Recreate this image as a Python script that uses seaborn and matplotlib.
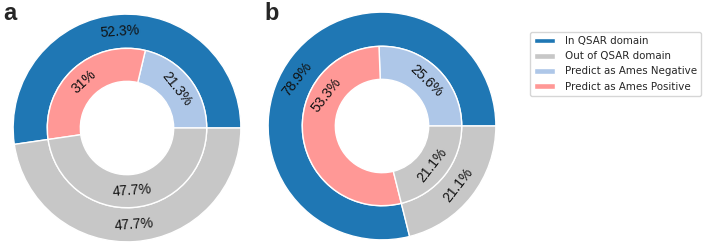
"""
QSAR applicability domain / Ames prediction nested donuts.
"""

import numpy as np
import matplotlib.pyplot as plt
import seaborn as sns
from matplotlib.patches import Patch

sns.set_theme(style="white")

# ── Data ──────────────────────────────────────────────────────────────────────
legend_labels = ["In QSAR domain", "Out of QSAR domain",
                 "Predict as Ames Negative", "Predict as Ames Positive"]

outer_a = [52.3, 47.7]          # in domain, out of domain
inner_a = [21.3, 31.0, 47.7]    # negative, positive, out of domain
outer_b = [78.9, 21.1]
inner_b = [25.6, 53.3, 21.1]

outer_text_a = ["52.3%", "47.7%"]
inner_text_a = ["21.3%", "31%", "47.7%"]
outer_text_b = ["78.9%", "21.1%"]
inner_text_b = ["25.6%", "53.3%", "21.1%"]

# panel b: the 78.9% / 53.3% labels sit a bit further round than the bisector
b_left_label_angle = 151

tab20 = sns.color_palette("tab20")
c_in, c_out, c_neg, c_pos = tab20[0], tab20[15], tab20[1], tab20[7]
LABEL_FONT = ["Liberation Sans", "DejaVu Sans"]


def put_labels(ax, angles, rots, texts, r):
    for theta, rot, t in zip(angles, rots, texts):
        x, y = r * np.cos(np.radians(theta)), r * np.sin(np.radians(theta))
        rot = (rot - 90) % 360
        if 90 < rot < 270:
            rot -= 180
        ax.text(x, y, t, rotation=rot, rotation_mode="anchor",
                ha="center", va="center", fontsize=10, color="#111111",
                family=LABEL_FONT)


def mid(w):
    return (w.theta1 + w.theta2) / 2


def donut(ax, outer, inner, outer_text, inner_text, left_angle=None):
    wo, _ = ax.pie(outer, radius=1.0, colors=[c_in, c_out], startangle=0,
                   counterclock=True,
                   wedgeprops=dict(width=0.30, edgecolor="white", linewidth=1))
    wi, _ = ax.pie(inner, radius=0.70, colors=[c_neg, c_pos, c_out], startangle=0,
                   counterclock=True,
                   wedgeprops=dict(width=0.29, edgecolor="white", linewidth=1))
    o_rot = [mid(w) for w in wo]
    i_rot = [mid(w) for w in wi]
    o_pos, i_pos = list(o_rot), list(i_rot)
    if left_angle is not None:
        o_pos[0] = left_angle
        i_pos[1] = left_angle
        i_rot[1] = o_rot[0]
    put_labels(ax, o_pos, o_rot, outer_text, 0.85)
    put_labels(ax, i_pos, i_rot, inner_text, 0.555)
    ax.set_xlim(-1.01, 1.01)
    ax.set_ylim(-1.01, 1.01)
    ax.set_aspect("equal")
    ax.axis("off")


fig = plt.figure(figsize=(7.08, 2.48), dpi=100)
ax_a = fig.add_axes([12 / 708, (248 - 243) / 248, 230 / 708, 230 / 248])
ax_b = fig.add_axes([267 / 708, (248 - 241) / 248, 230 / 708, 230 / 248])

donut(ax_a, outer_a, inner_a, outer_text_a, inner_text_a)
donut(ax_b, outer_b, inner_b, outer_text_b, inner_text_b, left_angle=b_left_label_angle)

fig.text(3 / 708, 1 - 2 / 248, "a", fontsize=17, fontweight="bold", va="top", ha="left",
         family=LABEL_FONT)
fig.text(264 / 708, 1 - 2 / 248, "b", fontsize=17, fontweight="bold", va="top", ha="left",
         family=LABEL_FONT)

handles = [Patch(facecolor=c, label=l) for c, l in zip([c_in, c_out, c_neg, c_pos], legend_labels)]
fig.legend(handles=handles, loc="upper left", bbox_to_anchor=(530 / 708, 1 - 32 / 248),
           borderaxespad=0, fontsize=7.4, frameon=True, handlelength=2.0, handleheight=0.5,
           handletextpad=1.0, borderpad=0.4, labelspacing=0.5, fancybox=True)

plt.savefig("out.png", dpi=100)
